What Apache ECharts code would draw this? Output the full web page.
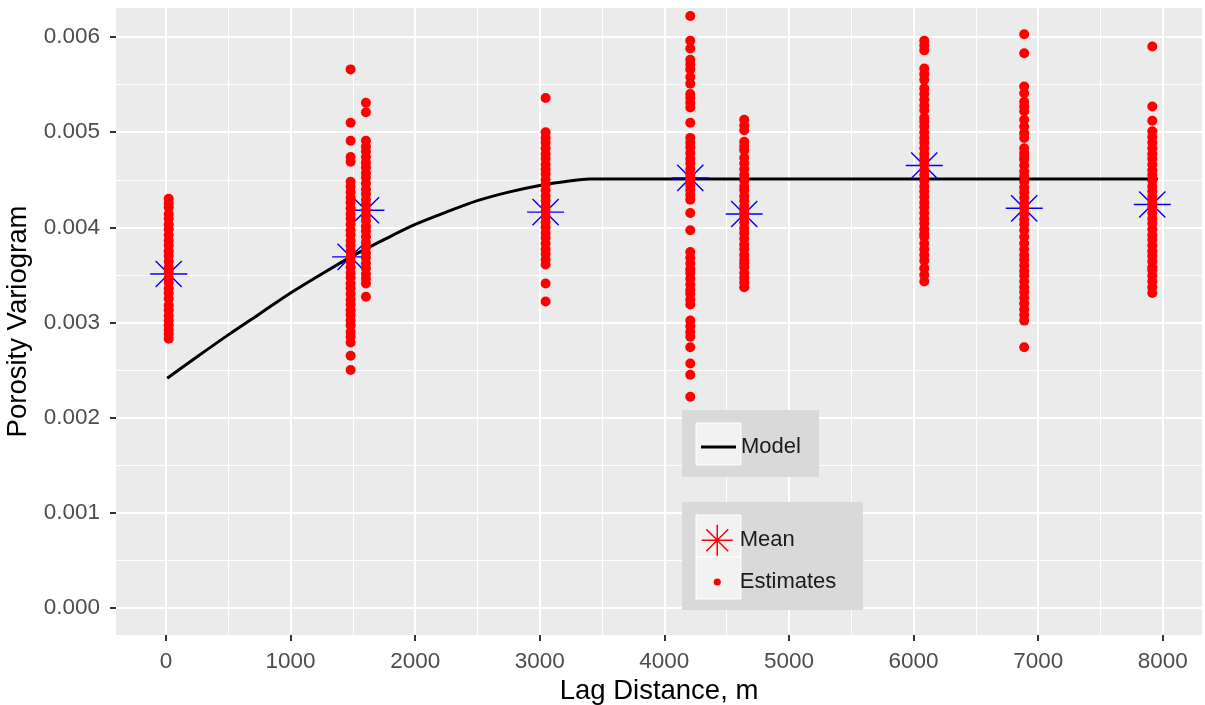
<!DOCTYPE html>
<html><head><meta charset="utf-8">
<script src="https://cdn.jsdelivr.net/npm/echarts@6/dist/echarts.min.js"></script>
<style>html,body{margin:0;padding:0;background:#fff}#c{width:1205px;height:705px}</style>
</head><body><div id="c"></div>
<script>
// ---- data ----
const lags = [22, 1482, 1605, 3047, 4208, 4641, 6086, 6888, 7916];
const means = [0.00351, 0.00369, 0.00418, 0.00416, 0.00452, 0.00414, 0.00465, 0.00420, 0.00424];

const est0 = [0.00430,0.00425,0.00421,0.00414,0.00409,0.00403,0.00398,0.00392,0.00386,0.00381,0.00375,0.00370,0.00364,0.00358,0.00353,0.00347,0.00342,0.00336,0.00331,0.00325,0.00318,0.00313,0.00307,0.00302,0.00297,0.00292,0.00288,0.00283];
const est1 = [0.00566,0.00510,0.00491,0.00474,0.00469,0.00448,0.00443,0.00437,0.00431,0.00426,0.00420,0.00414,0.00409,0.00403,0.00397,0.00392,0.00386,0.00381,0.00375,0.00369,0.00364,0.00358,0.00352,0.00347,0.00341,0.00336,0.00330,0.00324,0.00319,0.00313,0.00308,0.00302,0.00297,0.00290,0.00285,0.00279,0.00265,0.00250];
const est2 = [0.00531,0.00521,0.00491,0.00485,0.00480,0.00474,0.00468,0.00463,0.00457,0.00452,0.00446,0.00440,0.00435,0.00429,0.00424,0.00418,0.00412,0.00407,0.00401,0.00396,0.00390,0.00384,0.00379,0.00373,0.00368,0.00362,0.00357,0.00351,0.00346,0.00341,0.00327];
const est3 = [0.00536,0.00500,0.00494,0.00489,0.00483,0.00477,0.00472,0.00466,0.00461,0.00456,0.00450,0.00445,0.00439,0.00433,0.00428,0.00422,0.00417,0.00411,0.00405,0.00400,0.00394,0.00389,0.00383,0.00377,0.00372,0.00366,0.00361,0.00341,0.00322];
const est4 = [0.00622,0.00596,0.00588,0.00576,0.00571,0.00566,0.00558,0.00551,0.00540,0.00536,0.00531,0.00526,0.00510,0.00494,0.00489,0.00484,0.00478,0.00472,0.00467,0.00461,0.00455,0.00450,0.00444,0.00439,0.00434,0.00429,0.00415,0.00397,0.00374,0.00368,0.00362,0.00356,0.00352,0.00346,0.00340,0.00334,0.00330,0.00324,0.00319,0.00302,0.00296,0.00290,0.00285,0.00274,0.00257,0.00245,0.00222];
const est5 = [0.00513,0.00507,0.00502,0.00490,0.00485,0.00481,0.00473,0.00467,0.00461,0.00455,0.00449,0.00443,0.00439,0.00433,0.00428,0.00422,0.00416,0.00411,0.00405,0.00399,0.00394,0.00388,0.00382,0.00377,0.00371,0.00366,0.00362,0.00358,0.00352,0.00347,0.00342,0.00337];
const est6 = [0.00596,0.00591,0.00586,0.00567,0.00561,0.00555,0.00546,0.00540,0.00534,0.00528,0.00523,0.00515,0.00511,0.00506,0.00500,0.00494,0.00489,0.00483,0.00477,0.00472,0.00466,0.00460,0.00455,0.00449,0.00443,0.00438,0.00432,0.00426,0.00421,0.00415,0.00409,0.00404,0.00398,0.00393,0.00390,0.00383,0.00377,0.00371,0.00365,0.00357,0.00350,0.00343];
const est7 = [0.00603,0.00583,0.00548,0.00541,0.00532,0.00527,0.00522,0.00513,0.00506,0.00499,0.00494,0.00483,0.00478,0.00474,0.00471,0.00465,0.00459,0.00454,0.00448,0.00442,0.00437,0.00431,0.00425,0.00420,0.00414,0.00408,0.00403,0.00397,0.00390,0.00383,0.00377,0.00371,0.00366,0.00360,0.00354,0.00349,0.00343,0.00337,0.00332,0.00326,0.00320,0.00314,0.00308,0.00302,0.00274];
const est8 = [0.00590,0.00527,0.00512,0.00501,0.00495,0.00489,0.00483,0.00477,0.00472,0.00466,0.00460,0.00455,0.00449,0.00443,0.00438,0.00432,0.00426,0.00421,0.00415,0.00409,0.00404,0.00398,0.00392,0.00387,0.00381,0.00375,0.00370,0.00364,0.00358,0.00355,0.00349,0.00343,0.00337,0.00331];
const estimates = [est0, est1, est2, est3, est4, est5, est6, est7, est8];

const modelLag = [10, 250, 500, 750, 1000, 1250, 1500, 1750, 2000, 2250, 2500, 2750, 3000, 3250, 3400, 7960];
const modelVal = [0.002414, 0.00264, 0.00287, 0.00309, 0.00331, 0.00351, 0.00370, 0.00387, 0.00403, 0.00416, 0.00428, 0.00437, 0.00444, 0.00449, 0.004508, 0.004508];

const xTicks = [0, 1000, 2000, 3000, 4000, 5000, 6000, 7000, 8000];
const xMinor = [500, 1500, 2500, 3500, 4500, 5500, 6500, 7500];
const yTicks = [0, 0.001, 0.002, 0.003, 0.004, 0.005, 0.006];
const yMinor = [0.0005, 0.0015, 0.0025, 0.0035, 0.0045, 0.0055];

// ---- build ----
const FONT = "'Liberation Sans', Arial, sans-serif";
const estData = [];
estimates.forEach((arr, i) => arr.forEach(v => estData.push([lags[i], v])));
const meanData = lags.map((l, i) => [l, means[i]]);
const modelData = modelLag.map((l, i) => [l, modelVal[i]]);

const ASTER = 'path://M-1 0L1 0M0 -1L0 1M-0.707 -0.707L0.707 0.707M-0.707 0.707L0.707 -0.707';
const DOT = 'path://M-5 -5M5 5M-1.15 0A1.15 1.15 0 1 0 1.15 0A1.15 1.15 0 1 0 -1.15 0Z';
const BAR = 'path://M0 0L35 0L35 3L0 3Z';

const gridLines = [];
xMinor.forEach(v => gridLines.push({xAxis: v, lineStyle: {color: '#fff', width: 1, type: 'solid'}}));
yMinor.forEach(v => gridLines.push({yAxis: v, lineStyle: {color: '#fff', width: 1, type: 'solid'}}));
xTicks.forEach(v => gridLines.push({xAxis: v, lineStyle: {color: '#fff', width: 2, type: 'solid'}}));
yTicks.forEach(v => gridLines.push({yAxis: v, lineStyle: {color: '#fff', width: 2, type: 'solid'}}));

const chart = echarts.init(document.getElementById('c'), null, {renderer: 'canvas'});
chart.setOption({
  animation: false,
  backgroundColor: '#fff',
  textStyle: {fontFamily: FONT},
  grid: {left: 116, right: 3, top: 8, bottom: 70, show: true, backgroundColor: '#EBEBEB', borderWidth: 0,
         containLabel: false, outerBoundsMode: 'none'},
  xAxis: {
    type: 'value', min: -401, max: 8315,
    name: 'Lag Distance, m', nameLocation: 'middle', nameGap: 36,
    nameTextStyle: {fontSize: 27.5, color: '#000', fontFamily: FONT},
    axisLine: {show: false, onZero: false},
    axisTick: {show: true, length: 6, lineStyle: {color: '#333', width: 2}, customValues: xTicks},
    axisLabel: {fontSize: 22.5, color: '#4D4D4D', margin: 15, fontFamily: FONT, customValues: xTicks,
      formatter: v => String(v)},
    splitLine: {show: false}
  },
  yAxis: {
    type: 'value', min: -0.000284, max: 0.006305,
    name: 'Porosity Variogram', nameLocation: 'middle', nameGap: 79,
    nameTextStyle: {fontSize: 27.5, color: '#000', fontFamily: FONT},
    axisLine: {show: false, onZero: false},
    axisTick: {show: true, length: 6, lineStyle: {color: '#333', width: 2}, customValues: yTicks},
    axisLabel: {fontSize: 22.5, color: '#4D4D4D', margin: 16, fontFamily: FONT, customValues: yTicks,
      formatter: v => Number(v).toFixed(3)},
    splitLine: {show: false}
  },
  legend: [
    {data: [{name: 'Model', icon: BAR, itemStyle: {color: '#000'}}], left: 701, top: 436, orient: 'vertical',
     itemWidth: 35, itemHeight: 22, padding: 0, selectedMode: false, z: 20,
     textStyle: {fontSize: 22, color: '#1a1a1a', fontFamily: FONT}},
    {data: [
       {name: 'Mean', icon: ASTER, itemStyle: {color: '#FF0000', borderColor: '#FF0000', borderWidth: 1.5}},
       {name: 'Estimates', icon: DOT, itemStyle: {color: '#FF0000', borderWidth: 0}}
     ],
     left: 701, top: 524, orient: 'vertical', itemWidth: 35, itemHeight: 31, itemGap: 10,
     padding: 0, selectedMode: false, z: 20, textStyle: {fontSize: 22, color: '#1a1a1a', fontFamily: FONT}}
  ],
  graphic: [
    {type: 'rect', z: 10, shape: {x: 682, y: 410, width: 137, height: 67}, style: {fill: '#D9D9D9'}},
    {type: 'rect', z: 11, shape: {x: 696, y: 423, width: 45, height: 42}, style: {fill: '#F2F2F2', stroke: '#fff', lineWidth: 1}},
    {type: 'rect', z: 10, shape: {x: 682, y: 502, width: 181, height: 108}, style: {fill: '#D9D9D9'}},
    {type: 'rect', z: 11, shape: {x: 696, y: 515, width: 45, height: 42}, style: {fill: '#F2F2F2', stroke: '#fff', lineWidth: 1}},
    {type: 'rect', z: 11, shape: {x: 696, y: 557, width: 45, height: 42}, style: {fill: '#F2F2F2', stroke: '#fff', lineWidth: 1}}
  ],
  series: [
    {name: 'grid', type: 'line', data: [], z: 1, silent: true,
     markLine: {z: 1, silent: true, precision: 8, symbol: ['none', 'none'], label: {show: false}, animation: false, data: gridLines}},
    {name: 'Model', type: 'line', data: modelData, z: 2, symbol: 'none', smooth: 0.3,
     lineStyle: {color: '#000', width: 3}, itemStyle: {color: '#000'}},
    {name: 'Mean', type: 'scatter', data: meanData, z: 3, symbol: ASTER, symbolSize: 37,
     itemStyle: {color: '#0000FF', borderColor: '#0000FF', borderWidth: 1.4, opacity: 1}},
    {name: 'Estimates', type: 'scatter', data: estData, z: 6, symbol: 'circle', symbolSize: 10,
     itemStyle: {color: '#FF0000', opacity: 1}}
  ]
});
</script></body></html>
